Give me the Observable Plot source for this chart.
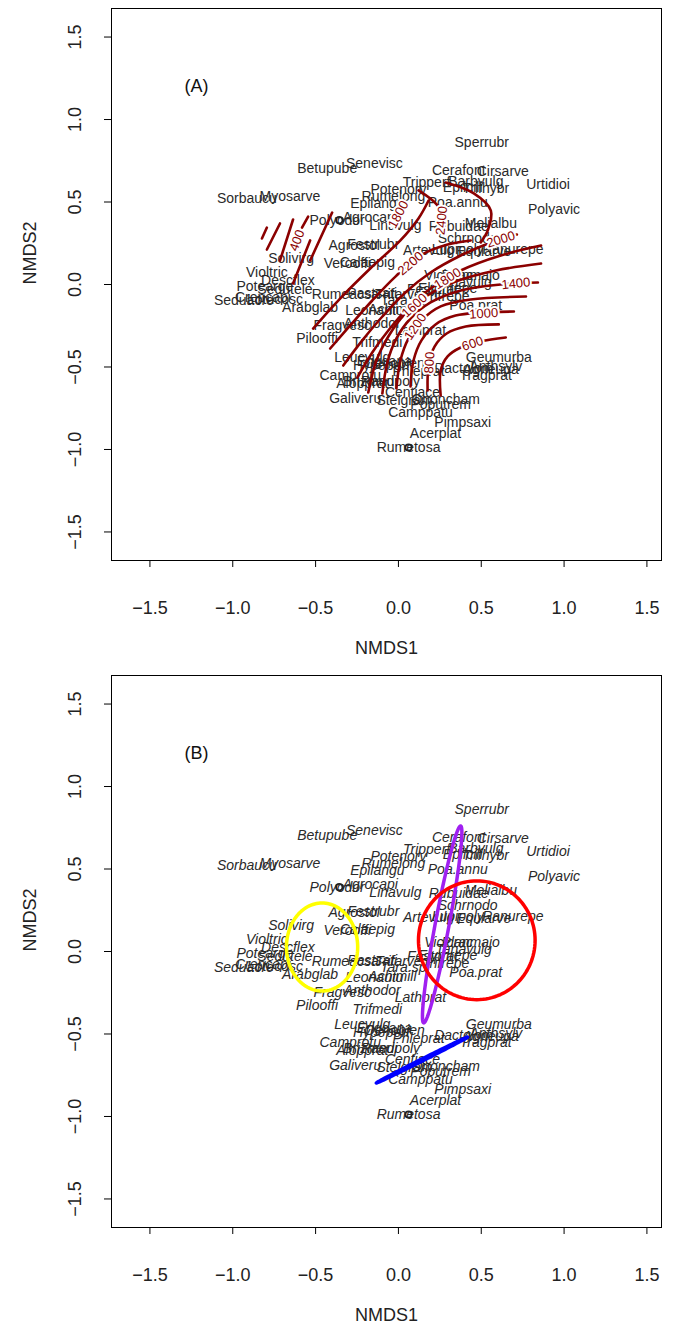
<!DOCTYPE html>
<html><head><meta charset="utf-8">
<script src="https://cdn.jsdelivr.net/npm/d3@7"></script>
<script src="https://cdn.jsdelivr.net/npm/@observablehq/plot@0.6"></script>
<style>
body{margin:0;background:#fff;}
#chart{width:689px;}
#chart svg{display:block;}
</style></head><body><div id="chart"></div>
<script>
// ---- data ----
const speciesNames = ["Sperrubr","Betupube","Senevisc","Cerafont","Cirsarve","Tripperf","Barbvulg","Epilcili","Trifhybr","Urtidioi","Potenorv","Rumelong","Poa.annu","Epilangu","Sorbaucu","Myosarve","Polyodor","Agrocapi","Linavulg","Rubuidae","Melialbu","Polyavic","Agrostol","Festrubr","Schrnodo","Artevulg","Lupipoly","Equiarve","Ranurepe","Solivirg","Verooffi","Calaepig","Violtric","Descflex","Potearge","Sedutele","Seduacre","Crepcapi","Lotucosc","Arabglab","Rumeacsa","Pastsati","Trifarve","Tara.sp","Vicicrac","Planmajo","Tanavulg","Festprat","Trifrepe","Elymrepe","Poa.prat","Lathprat","Leonautu","Achimill","Fragvesc","Anthodor","Pilooffi","Trifmedi","Leucvulg","Hypeperf","Erigcana","Oenobien","Phleprat","Dactglom","Anthsylv","Agrieupa","Geumurba","Tragprat","Camprotu","Alopprat","Ranupoly","Brizmedi","Centjace","Galiveru","Stelgram","Ononcham","Poputrem","Camppatu","Pimpsaxi","Acerplat","Rumetosa"];
const nmds1 = [0.503,-0.430,-0.145,0.364,0.630,0.170,0.467,0.388,0.527,0.903,0.000,-0.030,0.358,-0.127,-0.915,-0.655,-0.370,-0.170,-0.018,0.364,0.558,0.939,-0.267,-0.152,0.418,0.182,0.358,0.515,0.691,-0.648,-0.309,-0.188,-0.794,-0.667,-0.806,-0.685,-0.933,-0.818,-0.745,-0.533,-0.321,-0.158,0.000,0.030,0.303,0.436,0.394,0.206,0.285,0.297,0.467,0.133,-0.145,-0.036,-0.339,-0.158,-0.491,-0.127,-0.218,-0.103,-0.085,-0.024,0.121,0.394,0.588,0.558,0.606,0.527,-0.291,-0.218,-0.048,-0.170,0.085,-0.261,0.036,0.285,0.255,0.133,0.388,0.224,0.061];
const nmds2 = [0.861,0.703,0.733,0.691,0.685,0.618,0.624,0.588,0.582,0.606,0.576,0.533,0.497,0.491,0.521,0.533,0.388,0.406,0.358,0.352,0.370,0.455,0.236,0.242,0.279,0.206,0.212,0.200,0.212,0.158,0.127,0.133,0.073,0.024,-0.012,-0.030,-0.097,-0.079,-0.091,-0.139,-0.061,-0.055,-0.061,-0.097,0.055,0.055,0.012,-0.030,-0.073,-0.024,-0.127,-0.279,-0.158,-0.152,-0.248,-0.236,-0.327,-0.352,-0.442,-0.491,-0.467,-0.479,-0.527,-0.509,-0.497,-0.515,-0.442,-0.552,-0.552,-0.600,-0.588,-0.588,-0.655,-0.691,-0.703,-0.697,-0.727,-0.776,-0.836,-0.903,-0.988];
const siteX = [-0.357, 0.061];
const siteY = [0.390, -0.988];

const xTicks = [-1.5,-1.0,-0.5,0.0,0.5,1.0,1.5];
const yTicks = [-1.5,-1.0,-0.5,0.0,0.5,1.0,1.5];

// contour polylines of the fitted surface (NMDS1, NMDS2)
const contourLines = [
  [[0.255,-0.673],[0.255,-0.521],[0.297,-0.436],[0.376,-0.382],[0.497,-0.345],[0.648,-0.321]],
  [[0.176,-0.642],[0.182,-0.491],[0.218,-0.376],[0.291,-0.297],[0.406,-0.255],[0.606,-0.242]],
  [[0.073,-0.618],[0.091,-0.461],[0.139,-0.339],[0.224,-0.242],[0.345,-0.188],[0.697,-0.164]],
  [[-0.012,-0.630],[0.012,-0.461],[0.061,-0.327],[0.139,-0.218],[0.255,-0.133],[0.436,-0.091],[0.770,-0.073]],
  [[-0.097,-0.661],[-0.067,-0.473],[-0.012,-0.327],[0.073,-0.206],[0.194,-0.109],[0.376,-0.036],[0.618,0.000],[0.842,0.012]],
  [[-0.182,-0.655],[-0.133,-0.461],[-0.061,-0.315],[0.030,-0.188],[0.164,-0.073],[0.345,0.018],[0.588,0.085],[0.861,0.127]],
  [[-0.248,-0.564],[-0.158,-0.412],[-0.061,-0.279],[0.055,-0.145],[0.194,-0.024],[0.376,0.085],[0.618,0.176],[0.861,0.236]],
  [[-0.333,-0.491],[-0.218,-0.339],[-0.097,-0.194],[0.042,-0.048],[0.194,0.073],[0.376,0.176],[0.558,0.255],[0.715,0.303]],
  [[-0.412,-0.388],[-0.291,-0.248],[-0.158,-0.097],[-0.018,0.048],[0.133,0.176],[0.297,0.242],[0.436,0.267]],
  [[-0.515,-0.267],[-0.352,-0.085],[-0.170,0.097],[0.012,0.267],[0.121,0.400],[0.182,0.509]],
  [[0.121,0.570],[0.236,0.479],[0.279,0.376]],
  [[0.285,0.618],[0.455,0.552],[0.558,0.448],[0.539,0.327],[0.497,0.255]],
  [[-0.824,0.279],[-0.794,0.345]],
  [[-0.794,0.212],[-0.715,0.370]],
  [[-0.715,0.145],[-0.636,0.394]],
  [[-0.636,0.006],[-0.533,0.267]],
  [[-0.582,0.345],[-0.545,0.412]],
  [[-0.533,0.145],[-0.400,0.436]]
];
const contourLabelText = ["400","600","800","1000","1200","1400","1600","1800","2000","2200","2400","1800"];
const contourLabelX = [-0.612,0.448,0.188,0.515,0.103,0.709,0.097,0.297,0.618,0.073,0.261,0.000];
const contourLabelY = [0.267,-0.358,-0.473,-0.176,-0.255,0.006,-0.127,0.036,0.273,0.127,0.388,0.424];
const contourLabelAngle = [-70,-18,-86,-4,-56,-6,-42,-32,-17,-40,-85,-62];

// ellipses for panel B: centre, semi-axes, rotation (deg)
const ellipseColor = ["#FFFF00","#A020F0","#FF0000","#0000FF"];
const ellipseCx = [-0.461, 0.264, 0.473, 0.142];
const ellipseCy = [0.027, 0.164, 0.068, -0.658];
const ellipseA = [0.215, 0.607, 0.352, 0.309];
const ellipseB = [0.267, 0.042, 0.360, 0.006];
const ellipseAngle = [0, 79.4, 0, 26.8];

// ---- build ----
const species = speciesNames.map((n,i)=>({n, x:nmds1[i], y:nmds2[i]}));
const sites = siteX.map((x,i)=>({x, y:siteY[i]}));
const contourPts = contourLines.flatMap((l,k)=>l.map(([x,y])=>({k,x,y})));
const contourLabels = contourLabelText.map((t,i)=>({t,x:contourLabelX[i],y:contourLabelY[i],a:contourLabelAngle[i]}));
const ellipsePts = [];
ellipseColor.forEach((c,k)=>{
  const th = ellipseAngle[k]*Math.PI/180;
  for(let j=0;j<=120;j++){
    const t = j/120*2*Math.PI;
    const u = ellipseA[k]*Math.cos(t), v = ellipseB[k]*Math.sin(t);
    ellipsePts.push({k, c, x: ellipseCx[k] + u*Math.cos(th) - v*Math.sin(th), y: ellipseCy[k] + u*Math.sin(th) + v*Math.cos(th)});
  }
});

const fmt = d => d.toFixed(1).replace("-", "\u2212");
const FONT = "'Liberation Sans', Arial, Helvetica, sans-serif";

function panel(tag, italic, extra, h) {
  return Plot.plot({
    width: 689, height: h,
    marginLeft: 111, marginRight: 28, marginTop: 8, marginBottom: h-560,
    style: {fontFamily: FONT, background: "#fff", overflow: "visible"},
    x: {domain: [-1.732, 1.588], axis: null},
    y: {domain: [-1.673, 1.673], axis: null},
    marks: [
      Plot.frame({stroke: "#000", strokeWidth: 1}),
      Plot.axisX({ticks: xTicks, tickSize: 7, tickPadding: 34, fontSize: 18, tickFormat: fmt, label: null, stroke: "#000", fill: "#222"}),
      Plot.axisY({ticks: yTicks, tickSize: 7, tickFormat: () => "", label: null, stroke: "#000"}),
      Plot.text(yTicks, {y: d => d, text: fmt, frameAnchor: "left", dx: -36, rotate: -90, fontSize: 18, fill: "#222", textAnchor: "middle", lineAnchor: "middle"}),
      Plot.text(["NMDS1"], {frameAnchor: "bottom", dy: 88, fontSize: 18, fill: "#222", lineAnchor: "middle"}),
      Plot.text(["NMDS2"], {frameAnchor: "left", dx: -81, rotate: -90, fontSize: 18, fill: "#222", lineAnchor: "middle"}),
      Plot.text([tag], {frameAnchor: "top-left", dx: 85, dy: 78, fontSize: 18, fill: "#111", textAnchor: "middle", lineAnchor: "middle"}),
      Plot.text(species, {x: "x", y: "y", text: "n", fontSize: 14, fill: "#2a2a2a", fontStyle: italic ? "italic" : "normal", lineAnchor: "middle"}),
      Plot.dot(sites, {x: "x", y: "y", r: 3.2, stroke: "#222", strokeWidth: 1.8, fill: "none"}),
      ...extra
    ]
  });
}

const contourMarks = [
  Plot.line(contourPts, {x: "x", y: "y", z: "k", stroke: "#8B0000", strokeWidth: 2.6, curve: "catmull-rom"}),
  Plot.text(contourLabels, {x: "x", y: "y", text: "t", rotate: "a", fill: "#8B0000", fontSize: 13, stroke: "#fff", strokeWidth: 4, paintOrder: "stroke", lineAnchor: "middle"})
];
const ellipseMarks = [
  Plot.line(ellipsePts, {x: "x", y: "y", z: "k", stroke: "c", strokeWidth: 3.5})
];

const el = document.getElementById("chart");
el.appendChild(panel("(A)", false, contourMarks, 667));
el.appendChild(panel("(B)", true, ellipseMarks, 666));
</script>
</body></html>
